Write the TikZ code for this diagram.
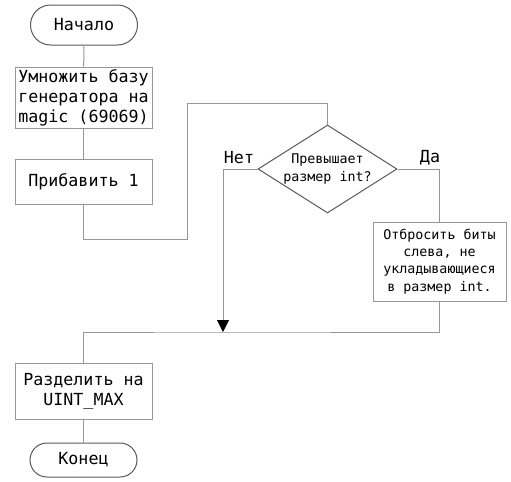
\documentclass[tikz,border=0pt]{standalone}
\usepackage{fontspec}
\setmainfont{DejaVu Sans Mono}
\usetikzlibrary{shapes.geometric,arrows.meta}
\definecolor{linegray}{RGB}{150,150,150}
\definecolor{edgegray}{RGB}{90,90,90}
\tikzset{every picture/.style={line width=0.75pt}}
\tikzset{
	procbox/.style={draw=linegray, fill=white, inner sep=0pt, align=center, font=\fontsize{12.5}{15}\selectfont},
	termbox/.style={draw=edgegray, fill=white, inner sep=0pt, font=\fontsize{12.5}{15}\selectfont},
	flowline/.style={draw=linegray},
	branchlabel/.style={font=\fontsize{12.5}{15}\selectfont}
}

\begin{document}
\begin{tikzpicture}[x=0.75pt,y=0.75pt,yscale=-1,xscale=1]
	\useasboundingbox (0,0) rectangle (511,482);

	%Shape: Terminator
	\node [termbox, minimum width=80.25pt, minimum height=30pt, rounded corners=15pt] (start) at (84,25) {Начало};
	%Shape: Rectangle
	\node [procbox, minimum width=102.75pt, minimum height=45.75pt] (mult) at (83.5,97.5) {Умножить базу\\генератора на\\magic (69069)};
	%Shape: Rectangle
	\node [procbox, minimum width=102.75pt, minimum height=33.75pt] (add) at (83.5,181.5) {Прибавить 1};
	%Shape: Diamond
	\node [draw=edgegray, fill=white, diamond, aspect=1.58, inner sep=0pt, minimum width=104.25pt, minimum height=66pt, align=center, font=\fontsize{10}{13.5}\selectfont] (chk) at (327.5,169) {Превышает\\размер int?};
	%Shape: Rectangle
	\node [procbox, minimum width=99.75pt, minimum height=59.25pt, font=\fontsize{10}{13}\selectfont] (drop) at (439.5,261.5) {Отбросить биты\\слева, не\\укладывающиеся\\в размер int.};
	%Shape: Rectangle
	\node [procbox, minimum width=102.75pt, minimum height=42pt] (div) at (83.5,391) {Разделить на\\UINT\_MAX};
	%Shape: Terminator
	\node [termbox, minimum width=80.25pt, minimum height=25.5pt, rounded corners=12.75pt] (end) at (83.5,460) {Конец};

	%Bend points
	\coordinate (loopA) at (187,239);
	\coordinate (loopB) at (187,103);
	\coordinate (merge) at (223,332);

	%Straight Lines
	\draw [flowline] (start) -- (mult);
	\draw [flowline] (mult) -- (add);
	\draw [flowline] (add.south) |- (loopA) -- (loopB) -| (chk.north);
	\draw [flowline, -{Triangle[width=9pt,length=9pt,fill=black,color=black]}] (chk.west) -| (merge);
	\draw [flowline] (chk.east) -| (drop.north);
	\draw [flowline] (drop.south) |- (merge) -| (div.north);
	\draw [flowline] (div) -- (end);

	% Text Node
	\node [branchlabel] (no) at (239,158) {Нет};
	% Text Node
	\node [branchlabel] (yes) at (430,158) {Да};

\end{tikzpicture}
\end{document}
